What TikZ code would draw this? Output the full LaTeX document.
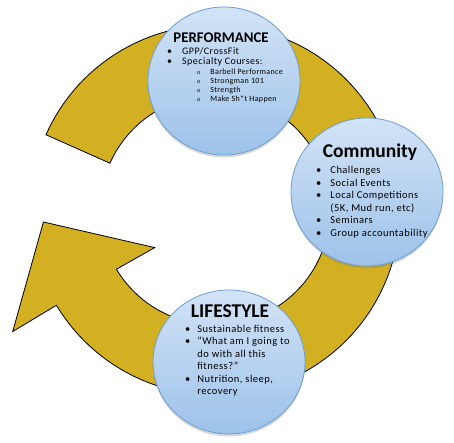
\documentclass[tikz,border=0pt]{standalone}
\usepackage{fontspec}
\setmainfont{Carlito}
\newfontfamily\spaced[LetterSpace=4.5]{Carlito}
\usetikzlibrary{shapes.geometric,shadows}

\definecolor{ringgold}{RGB}{211,175,34}
\definecolor{balltop}{RGB}{210,227,246}
\definecolor{ballbot}{RGB}{157,194,233}
\definecolor{ballline}{RGB}{106,158,213}

\tikzset{
  ball/.style={ellipse, draw=ballline, line width=0.8pt,
    top color=balltop, bottom color=ballbot,
    minimum width=152pt, minimum height=148pt, inner sep=0pt,
    drop shadow={shadow xshift=0pt, shadow yshift=-2.5pt, opacity=0.3}},
  balltitle/.style={anchor=base, inner sep=0pt, font=\bfseries\fontsize{19.5}{22}\selectfont},
  items/.style={anchor=base west, inner sep=0pt, align=left},
}

\begin{document}
\begin{tikzpicture}[x=1pt, y=1pt]
  \useasboundingbox (0,0) rectangle (454,443);

  % circular arrow
  \begin{scope}[shift={(215,233)}]
    \draw[fill=ringgold, line width=0.8pt, line join=miter]
      (156:185pt) arc[start angle=156, end angle=-149, radius=185pt]
      -- (-149:236pt) -- (-176:172pt) -- (-148:71pt)
      -- (-149:115pt) arc[start angle=-149, end angle=156, radius=115pt]
      -- cycle;
  \end{scope}

  % the three balls
  \node[ball] (perf) at (224,362) {};
  \node[ball] (comm) at (367,251) {};
  \node[ball, minimum height=144pt] (life) at (229,81) {};

  % Performance
  \node[balltitle, font=\bfseries\fontsize{14.8}{17}\selectfont] (perftitle) at (221,400) {PERFORMANCE};
  \node[items] (perflist) at (167,388) {\spaced\fontsize{10}{10}\selectfont
    \begin{tabular}[t]{@{}l@{\hspace{10pt}}l@{}}
      \textbullet & GPP/CrossFit\\
      \textbullet & Specialty Courses:
    \end{tabular}};
  \node[items] (perfsub) at (197,368) {\spaced\fontsize{8}{9}\selectfont
    \begin{tabular}[t]{@{}l@{\hspace{10pt}}l@{}}
      {\fontsize{6}{7}\selectfont o} & Barbell Performance\\
      {\fontsize{6}{7}\selectfont o} & Strongman 101\\
      {\fontsize{6}{7}\selectfont o} & Strength\\
      {\fontsize{6}{7}\selectfont o} & Make Sh*t Happen
    \end{tabular}};

  % Community
  \node[balltitle] (commtitle) at (370,285) {Community};
  \node[items] (commlist) at (316,269) {\spaced\fontsize{10.5}{12.5}\selectfont
    \begin{tabular}[t]{@{}l@{\hspace{9pt}}l@{}}
      \textbullet & Challenges\\
      \textbullet & Social Events\\
      \textbullet & Local Competitions\\
                  & (5K, Mud run, etc)\\
      \textbullet & Seminars\\
      \textbullet & Group accountability
    \end{tabular}};

  % Lifestyle
  \node[balltitle] (lifetitle) at (230,125) {LIFESTYLE};
  \node[items] (lifelist) at (185,110.5) {\spaced\fontsize{10.5}{12.5}\selectfont
    \begin{tabular}[t]{@{}l@{\hspace{7pt}}l@{}}
      \textbullet & Sustainable fitness\\
      \textbullet & “What am I going to\\
                  & do with all this\\
                  & fitness?”\\
      \textbullet & Nutrition, sleep,\\
                  & recovery
    \end{tabular}};
\end{tikzpicture}
\end{document}
